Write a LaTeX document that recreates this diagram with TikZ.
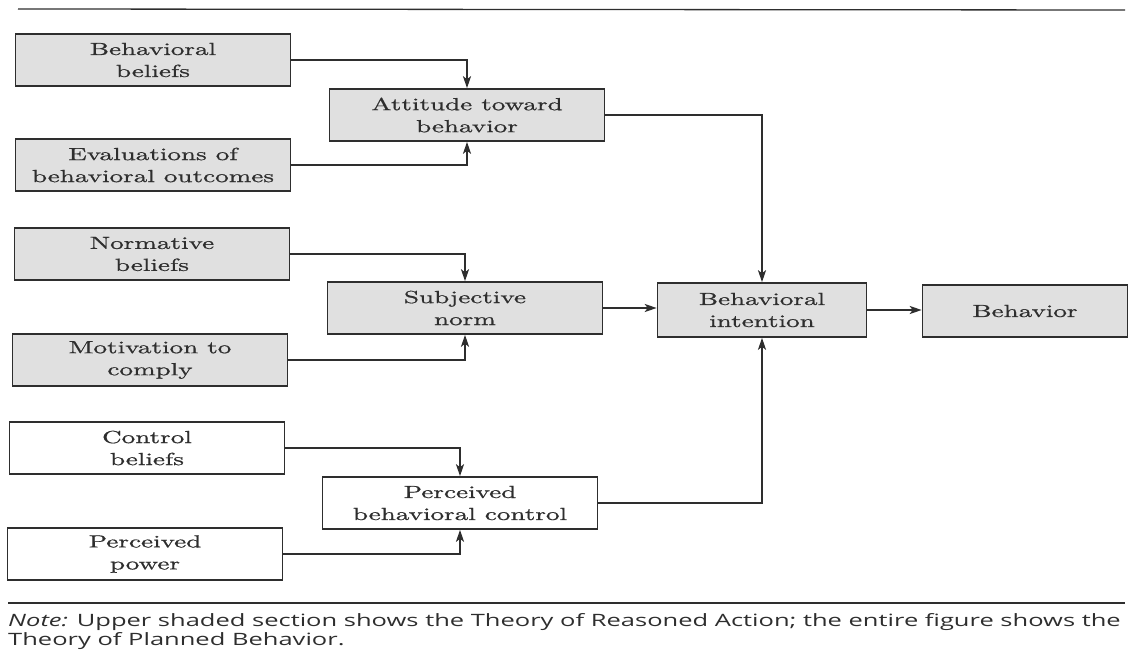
\documentclass[tikz,border=0pt]{standalone}
\usepackage{fontspec}
\newfontfamily\boxfont[FakeStretch=1.55,FakeBold=0.8]{lmroman10-regular.otf}
\newfontfamily\notefont[FakeStretch=1.5]{Open Sans}
\usetikzlibrary{arrows.meta}
\definecolor{ink}{HTML}{2E2E2E}
\definecolor{shade}{HTML}{E0E0E0}
\begin{document}
\begin{tikzpicture}[x=1pt,y=-1pt,
  box/.style={draw=ink,line width=1.6pt,minimum width=275pt,minimum height=52pt,
    inner sep=0pt,align=center,text=ink,font={\boxfont\fontsize{17.5}{22}\selectfont}},
  shaded/.style={box,fill=shade},
  blank/.style={box,fill=white},
  link/.style={draw=ink,line width=1.8pt,-{Stealth[length=12pt,width=8pt,inset=3pt]}}]
\useasboundingbox (0,0) rectangle (1130,650);
% rules above and below
\draw[ink,line width=1.3pt] (18,9) -- (1125,10);
\draw[ink,line width=1.3pt] (8,603) -- (1125,603);
% attitude branch
\node[shaded] (bb) at (153,60) {Behavioral\\beliefs};
\node[shaded] (att) at (467,115) {Attitude toward\\behavior};
\node[shaded] (ev) at (153,165) {Evaluations of\\behavioral outcomes};
% subjective norm branch
\node[shaded] (nb) at (152,254) {Normative\\beliefs};
\node[shaded] (sn) at (465,308) {Subjective\\norm};
\node[shaded] (mc) at (150,360) {Motivation to\\comply};
% control branch (unshaded)
\node[blank] (cb) at (147,448) {Control\\beliefs};
\node[blank] (pbc) at (460,503) {Perceived\\behavioral control};
\node[blank] (pp) at (145,554) {Perceived\\power};
% intention and behavior
\node[shaded,minimum width=209pt,minimum height=54pt] (bi) at (762,310) {Behavioral\\intention};
\node[shaded,minimum width=205pt] (beh) at (1025,311) {Behavior};
% connectors
\draw[link] (bb.east) -| (att.north);
\draw[link] (ev.east) -| (att.south);
\draw[link] (nb.east) -| (sn.north);
\draw[link] (mc.east) -| (sn.south);
\draw[link] (cb.east) -| (pbc.north);
\draw[link] (pp.east) -| (pbc.south);
\draw[link] (att.east) -| (bi.north);
\draw[link] (sn.east) -- (sn.east -| bi.west);
\draw[link] (pbc.east) -| (bi.south);
\draw[link] (bi.east) -- (bi.east -| beh.west);
% note
\node[anchor=north west,align=left,inner sep=0pt,text=ink,
  font={\notefont\fontsize{17}{19.5}\selectfont}] (note) at (8,613)
  {\textit{Note:} Upper shaded section shows the Theory of Reasoned Action; the entire figure shows the\\
   Theory of Planned Behavior.};
\end{tikzpicture}
\end{document}
